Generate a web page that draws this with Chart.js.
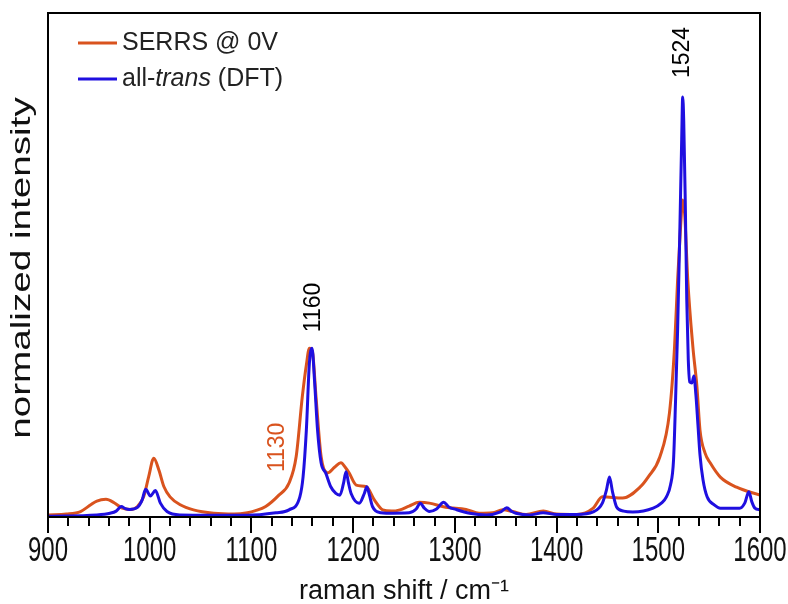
<!DOCTYPE html>
<html>
<head>
<meta charset="utf-8">
<script src="https://cdn.jsdelivr.net/npm/chart.js@4.4.1/dist/chart.umd.min.js"></script>
<style>
  html, body { margin: 0; padding: 0; background: #fff; }
  #wrap { width: 788px; height: 604px; }
</style>
</head>
<body>
<div id="wrap"><canvas id="spectrum" width="788" height="604"></canvas></div>
<script>
// Data (x in cm-1, normalized intensity)
const serrsShift = [900, 918, 932, 942, 948, 957, 965, 973, 981, 988, 994, 999, 1004, 1009, 1014, 1020, 1030, 1043, 1063, 1083,
  1096, 1104, 1114, 1127, 1137, 1144, 1150, 1154, 1157, 1160, 1163.5, 1168.5, 1175, 1182, 1188, 1192, 1196, 1203, 1213, 1221,
  1229, 1238, 1246, 1255, 1265, 1275, 1291, 1311, 1324, 1337, 1347, 1357, 1370, 1387, 1400, 1420, 1436, 1445, 1465, 1482,
  1490, 1501.5, 1511, 1516, 1519, 1522, 1524, 1526, 1529, 1534, 1538, 1541, 1546, 1551, 1561, 1577, 1600];
const serrsIntensity = [0.005, 0.007, 0.013, 0.029, 0.038, 0.042, 0.034, 0.021, 0.018, 0.025, 0.048, 0.096, 0.140, 0.112, 0.072, 0.048, 0.029, 0.017, 0.009, 0.007,
  0.010, 0.015, 0.025, 0.052, 0.081, 0.144, 0.286, 0.362, 0.402, 0.393, 0.286, 0.144, 0.105, 0.119, 0.129, 0.119, 0.105, 0.076, 0.072, 0.040,
  0.017, 0.014, 0.017, 0.026, 0.035, 0.033, 0.023, 0.018, 0.009, 0.010, 0.017, 0.013, 0.006, 0.014, 0.007, 0.006, 0.021, 0.048, 0.045, 0.071,
  0.095, 0.143, 0.248, 0.405, 0.564, 0.695, 0.755, 0.719, 0.564, 0.405, 0.310, 0.207, 0.152, 0.129, 0.095, 0.071, 0.052];

const dftShift = [900, 948, 961, 967, 972, 976, 980, 988, 992.5, 996, 1000.7, 1005.6, 1010.5, 1017, 1030, 1096, 1124, 1137, 1147.6, 1150.8,
  1154, 1157, 1159.6, 1162, 1165, 1168.5, 1173, 1178, 1183, 1187, 1190.5, 1193, 1195.5, 1198, 1206, 1211, 1213.5, 1216, 1219, 1227.5,
  1232.5, 1255, 1262, 1266, 1270, 1275, 1282, 1289, 1294, 1301, 1314.5, 1331, 1345, 1351, 1356, 1360, 1373.6, 1386.7, 1400, 1420,
  1436, 1445, 1449, 1452, 1455, 1459, 1466, 1475, 1495, 1503, 1508, 1512, 1515, 1517, 1519, 1521, 1523, 1524, 1525, 1526.5,
  1528, 1529.5, 1531, 1533, 1535, 1537, 1539, 1541, 1544, 1548, 1555, 1561, 1580, 1585, 1589, 1592, 1595, 1600];
const dftIntensity = [0.002, 0.005, 0.009, 0.014, 0.025, 0.020, 0.018, 0.023, 0.040, 0.066, 0.050, 0.063, 0.033, 0.013, 0.005, 0.004, 0.010, 0.017, 0.048, 0.096,
  0.207, 0.367, 0.402, 0.326, 0.207, 0.129, 0.105, 0.072, 0.056, 0.052, 0.080, 0.108, 0.080, 0.056, 0.033, 0.056, 0.072, 0.052, 0.025, 0.010,
  0.009, 0.010, 0.019, 0.033, 0.021, 0.013, 0.019, 0.035, 0.024, 0.018, 0.009, 0.005, 0.012, 0.022, 0.013, 0.009, 0.005, 0.010, 0.006, 0.006,
  0.012, 0.033, 0.064, 0.095, 0.060, 0.024, 0.014, 0.012, 0.021, 0.033, 0.048, 0.076, 0.136, 0.279, 0.445, 0.660, 0.898, 1.0, 0.945, 0.755,
  0.517, 0.374, 0.321, 0.319, 0.336, 0.290, 0.219, 0.148, 0.088, 0.048, 0.029, 0.021, 0.021, 0.033, 0.060, 0.036, 0.021, 0.017];

// Peak labels (position in cm-1, bottom of the rotated text in intensity units)
const peakLabels = ['1130', '1160', '1524'];
const peakLabelShift = [1126, 1161.5, 1524];
const peakLabelBase = [0.107, 0.44, 1.045];
const peakLabelColors = ['#d9531e', '#000000', '#000000'];

const xTicks = [900, 1000, 1100, 1200, 1300, 1400, 1500, 1600];

const SERRS_COLOR = '#d9531e';
const DFT_COLOR = '#1f0fe0';
const FONT = '"Liberation Sans", Arial, sans-serif';

const toPoints = (xs, ys) => xs.map((x, i) => ({ x, y: ys[i] }));

// frame, ticks, tick labels, y title, legend and peak labels
const decorPlugin = {
  id: 'decor',
  afterDraw(chart) {
    const { ctx, chartArea: a, scales: { x, y } } = chart;
    ctx.save();

    // box around the plot
    ctx.strokeStyle = '#000';
    ctx.lineWidth = 2;
    ctx.strokeRect(a.left, a.top, a.right - a.left, a.bottom - a.top);

    // x ticks: long every 100, short every 20
    ctx.beginPath();
    for (let v = xTicks[0]; v <= xTicks[xTicks.length - 1]; v += 20) {
      const px = Math.round(x.getPixelForValue(v));
      const len = v % 100 === 0 ? 16 : 9;
      ctx.moveTo(px, a.bottom);
      ctx.lineTo(px, a.bottom + len);
    }
    ctx.stroke();

    // tick labels, tall digits as in the original figure
    ctx.fillStyle = '#111';
    ctx.font = '24px ' + FONT;
    ctx.textAlign = 'center';
    ctx.textBaseline = 'middle';
    xTicks.forEach(v => {
      ctx.save();
      ctx.translate(x.getPixelForValue(v), a.bottom + 34);
      ctx.scale(1, 1.45);
      ctx.fillText(String(v), 0, 0);
      ctx.restore();
    });

    // y axis title
    ctx.save();
    ctx.translate(22, (a.top + a.bottom) / 2 + 3);
    ctx.rotate(-Math.PI / 2);
    ctx.scale(1.38, 1);
    ctx.font = '28px ' + FONT;
    ctx.fillText('normalized intensity', 0, 0);
    ctx.restore();

    // legend
    ctx.lineWidth = 3;
    ctx.textBaseline = 'middle';
    ctx.textAlign = 'left';
    const lx = a.left + 30, ly = a.top + 30;
    ctx.strokeStyle = SERRS_COLOR;
    ctx.beginPath(); ctx.moveTo(lx, ly); ctx.lineTo(lx + 39, ly); ctx.stroke();
    ctx.strokeStyle = DFT_COLOR;
    ctx.beginPath(); ctx.moveTo(lx, ly + 36); ctx.lineTo(lx + 39, ly + 36); ctx.stroke();
    ctx.fillStyle = '#222';
    ctx.font = '25px ' + FONT;
    ctx.fillText('SERRS @ 0V', lx + 44, ly);
    let tx = lx + 44;
    ctx.fillText('all-', tx, ly + 36);
    tx += ctx.measureText('all-').width;
    ctx.font = 'italic 25px ' + FONT;
    ctx.fillText('trans', tx, ly + 36);
    tx += ctx.measureText('trans').width;
    ctx.font = '25px ' + FONT;
    ctx.fillText(' (DFT)', tx, ly + 36);

    // rotated peak labels
    ctx.font = '23px ' + FONT;
    peakLabels.forEach((label, i) => {
      ctx.save();
      ctx.translate(x.getPixelForValue(peakLabelShift[i]), y.getPixelForValue(peakLabelBase[i]));
      ctx.rotate(-Math.PI / 2);
      ctx.fillStyle = peakLabelColors[i];
      ctx.textAlign = 'left';
      ctx.textBaseline = 'middle';
      ctx.fillText(label, 0, 0);
      ctx.restore();
    });

    ctx.restore();
  }
};

new Chart(document.getElementById('spectrum'), {
  type: 'line',
  data: {
    datasets: [
      {
        label: 'all-trans (DFT)',
        data: toPoints(dftShift, dftIntensity),
        borderColor: DFT_COLOR,
        borderWidth: 3,
        pointRadius: 0,
        cubicInterpolationMode: 'monotone',
        fill: false
      },
      {
        label: 'SERRS @ 0V',
        data: toPoints(serrsShift, serrsIntensity),
        borderColor: SERRS_COLOR,
        borderWidth: 3,
        pointRadius: 0,
        cubicInterpolationMode: 'monotone',
        fill: false
      }
    ]
  },
  options: {
    responsive: false,
    devicePixelRatio: 1,
    animation: false,
    layout: { padding: { top: 13, right: 28, left: 0, bottom: 0 } },
    plugins: {
      legend: { display: false },
      tooltip: { enabled: false }
    },
    scales: {
      x: {
        type: 'linear',
        min: 900,
        max: 1600,
        border: { display: false },
        grid: { display: false },
        ticks: { display: false },
        afterFit: s => { s.height = 87; },
        title: {
          display: true,
          text: 'raman shift / cm\u207B\u00B9',
          color: '#111',
          font: { family: FONT, size: 27, lineHeight: 1 },
          padding: { top: 0, bottom: -1 }
        }
      },
      y: {
        min: 0,
        max: 1.2,
        border: { display: false },
        grid: { display: false },
        ticks: { display: false },
        afterFit: s => { s.width = 48; }
      }
    }
  },
  plugins: [decorPlugin]
});
</script>
</body>
</html>
